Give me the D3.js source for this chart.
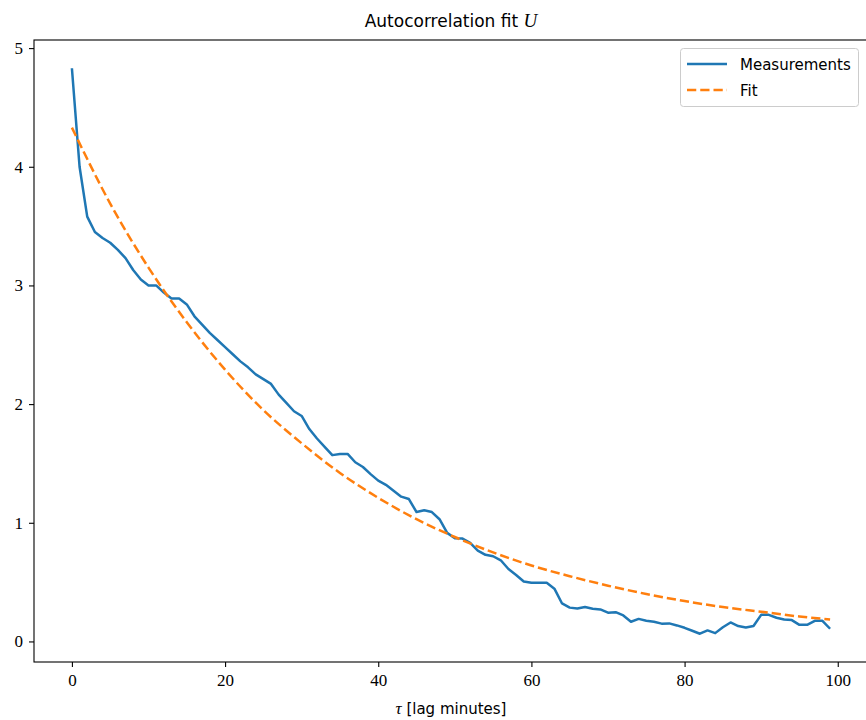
<!DOCTYPE html>
<html>
<head>
<meta charset="utf-8">
<script src="https://cdn.jsdelivr.net/npm/d3@7"></script>
<style>
  html, body { margin: 0; padding: 0; background: #fff; }
  svg { display: block; }
</style>
</head>
<body>
<svg id="chart" width="866" height="720"></svg>
<script>
// ---- data ----
const lags = d3.range(0, 100);
const measurements = [
  4.83, 4.00, 3.58, 3.45, 3.40, 3.36, 3.30, 3.23, 3.13, 3.05,
  3.00, 3.00, 2.94, 2.89, 2.89, 2.84, 2.74, 2.67, 2.60, 2.54,
  2.48, 2.42, 2.36, 2.31, 2.25, 2.21, 2.17, 2.08, 2.01, 1.94,
  1.90, 1.79, 1.71, 1.64, 1.57, 1.58, 1.58, 1.51, 1.47, 1.41,
  1.355, 1.32, 1.27, 1.22, 1.20, 1.09, 1.105, 1.09, 1.03, 0.915,
  0.87, 0.867, 0.83, 0.765, 0.73, 0.718, 0.684, 0.61, 0.56, 0.505,
  0.494, 0.494, 0.494, 0.445, 0.32, 0.285, 0.278, 0.29, 0.275, 0.27,
  0.242, 0.247, 0.219, 0.166, 0.19, 0.174, 0.166, 0.15, 0.152, 0.135,
  0.115, 0.09, 0.065, 0.093, 0.07, 0.12, 0.16, 0.13, 0.118, 0.13,
  0.224, 0.224, 0.20, 0.185, 0.18, 0.14, 0.14, 0.174, 0.174, 0.107
];
const fitLags   = [0, 5, 10, 15, 20, 25, 30, 35, 40, 45, 50, 55, 60, 65, 70, 75, 80, 85, 90, 95, 99];
const fitValues = [4.33, 3.69, 3.15, 2.69, 2.29, 1.95, 1.67, 1.42, 1.21, 1.03, 0.88, 0.75, 0.64, 0.55, 0.47, 0.40, 0.34, 0.29, 0.25, 0.21, 0.185];
const xTicks = [0, 20, 40, 60, 80, 100];
const yTicks = [0, 1, 2, 3, 4, 5];
const seriesNames = ["Measurements", "Fit"];
const colors = ["#1f77b4", "#ff7f0e"];

// ---- layout ----
const mLeft = 34, mRight = 868, mTop = 40, mBottom = 662;
const svg = d3.select("#chart");

const xMin = d3.min(lags), xMax = d3.max(lags);
const xPad = (xMax - xMin) * 0.05;
const allY = measurements.concat(fitValues);
const yMin = d3.min(allY), yMax = d3.max(allY);
const yPad = (yMax - yMin) * 0.05;

const x = d3.scaleLinear().domain([xMin - xPad, xMax + xPad]).range([mLeft, mRight]);
const y = d3.scaleLinear().domain([yMin - yPad, yMax + yPad]).range([mBottom, mTop]);

svg.append("defs").append("clipPath").attr("id", "clip")
  .append("rect").attr("x", mLeft).attr("y", mTop).attr("width", mRight - mLeft).attr("height", mBottom - mTop);

const plot = svg.append("g").attr("clip-path", "url(#clip)");

// Measurements
plot.append("path")
  .datum(lags.map((l, i) => [l, measurements[i]]))
  .attr("fill", "none")
  .attr("stroke", colors[0])
  .attr("stroke-width", 2.5)
  .attr("stroke-linejoin", "round")
  .attr("stroke-linecap", "butt")
  .attr("d", d3.line().x(d => x(d[0])).y(d => y(d[1])));

// Fit
plot.append("path")
  .datum(fitLags.map((l, i) => [l, fitValues[i]]))
  .attr("fill", "none")
  .attr("stroke", colors[1])
  .attr("stroke-width", 2.5)
  .attr("stroke-dasharray", "9.25,4")
  .attr("d", d3.line().curve(d3.curveMonotoneX).x(d => x(d[0])).y(d => y(d[1])));

// Axes
const tickFont = "'Liberation Serif', 'DejaVu Serif', serif";
const xAxis = svg.append("g").attr("transform", `translate(0,${mBottom})`)
  .call(d3.axisBottom(x).tickValues(xTicks).tickSize(5).tickPadding(7).tickFormat(d3.format("d")));
const yAxis = svg.append("g").attr("transform", `translate(${mLeft},0)`)
  .call(d3.axisLeft(y).tickValues(yTicks).tickSize(5).tickPadding(6).tickFormat(d3.format("d")));
[xAxis, yAxis].forEach(a => {
  a.select(".domain").remove();
  a.selectAll(".tick line").attr("stroke", "#000").attr("stroke-width", 1.1);
  a.selectAll(".tick text").attr("fill", "#000").style("font-family", tickFont).style("font-size", "17px");
});

// Spines
svg.append("rect")
  .attr("x", mLeft).attr("y", mTop).attr("width", mRight - mLeft).attr("height", mBottom - mTop)
  .attr("fill", "none").attr("stroke", "#000").attr("stroke-width", 1.1);

// Title
const sans = "'DejaVu Sans', 'Noto Sans', sans-serif";
const title = svg.append("text")
  .attr("x", (mLeft + mRight) / 2).attr("y", 27)
  .attr("text-anchor", "middle")
  .style("font-family", sans).style("font-size", "17px").attr("fill", "#000");
title.append("tspan").text("Autocorrelation fit ");
title.append("tspan").text("U").style("font-family", tickFont).style("font-style", "italic").style("font-size", "19px");

// X label
const xl = svg.append("text")
  .attr("x", (mLeft + mRight) / 2).attr("y", 714)
  .attr("text-anchor", "middle")
  .style("font-family", sans).style("font-size", "15px").attr("fill", "#000");
xl.append("tspan").text("τ").style("font-family", tickFont).style("font-style", "italic").style("font-size", "17px");
xl.append("tspan").text(" [lag minutes]");

// Legend
const lg = svg.append("g");
lg.append("rect")
  .attr("x", 680.5).attr("y", 48.5).attr("width", 178).attr("height", 58).attr("rx", 3)
  .attr("fill", "#fff").attr("fill-opacity", 0.8)
  .attr("stroke", "#ccc").attr("stroke-width", 1);
seriesNames.forEach((name, i) => {
  const yy = 64 + i * 26;
  lg.append("line")
    .attr("x1", 687).attr("x2", 727).attr("y1", yy).attr("y2", yy)
    .attr("stroke", colors[i]).attr("stroke-width", 2.5)
    .attr("stroke-dasharray", i === 1 ? "9.25,4" : null);
  lg.append("text")
    .attr("x", 740).attr("y", yy + 5.5)
    .style("font-family", sans).style("font-size", "15px").attr("fill", "#000")
    .text(name);
});
</script>
</body>
</html>
